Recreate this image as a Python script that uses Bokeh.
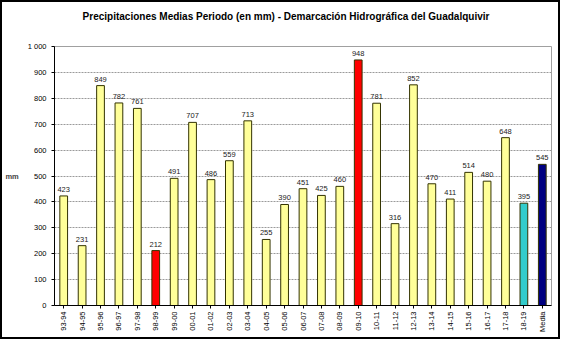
from bokeh.plotting import figure
from bokeh.models import ColumnDataSource, FactorRange, FixedTicker, LabelSet, Div
from bokeh.layouts import column
from bokeh.core.properties import value
from bokeh.embed import file_html
from bokeh.resources import INLINE

title_text = "Precipitaciones Medias Periodo (en mm) - Demarcación Hidrográfica del Guadalquivir"
periods = ["93-94", "94-95", "95-96", "96-97", "97-98", "98-99", "99-00", "00-01",
           "01-02", "02-03", "03-04", "04-05", "05-06", "06-07", "07-08", "08-09",
           "09-10", "10-11", "11-12", "12-13", "13-14", "14-15", "15-16", "16-17",
           "17-18", "18-19", "Media"]
values = [423, 231, 849, 782, 761, 212, 491, 707, 486, 559, 713, 255, 390, 451,
          425, 460, 948, 781, 316, 852, 470, 411, 514, 480, 648, 395, 545]
y_ticks = [0, 100, 200, 300, 400, 500, 600, 700, 800, 900, 1000]

YELLOW = "#FFFF99"
colors = [YELLOW] * len(periods)
colors[periods.index("98-99")] = "#FF0000"
colors[periods.index("09-10")] = "#FF0000"
colors[periods.index("18-19")] = "#33CCCC"
colors[periods.index("Media")] = "#000080"

src = ColumnDataSource(dict(x=periods, v=values, c=colors, t=[str(v) for v in values]))

title_div = Div(text=title_text, width=556, height=30, margin=0,
                styles={"font-family": "Liberation Sans", "font-size": "10px",
                        "font-weight": "bold", "color": "#000000", "text-align": "center",
                        "padding-top": "8px", "padding-left": "12px", "box-sizing": "border-box",
                        "background": "white"})

p = figure(x_range=FactorRange(*periods, range_padding=0), y_range=(0, 1000),
           width=556, height=305, output_backend="svg", toolbar_location=None,
           min_border_left=44, min_border_right=7, min_border_top=14, min_border_bottom=32)

p.vbar(x="x", top="v", width=0.42, fill_color="c", line_color="#333300", line_width=1, source=src)

labels = LabelSet(x="x", y="v", text="t", source=src, y_offset=4, text_align="center",
                  text_font=value("Liberation Sans"), text_font_size="7.5px", text_color="#222222")
p.add_layout(labels)

p.yaxis.ticker = FixedTicker(ticks=y_ticks)
p.yaxis.major_label_overrides = {1000: "1 000"}
p.yaxis.axis_label = "mm"
p.yaxis.axis_label_orientation = "horizontal"
p.yaxis.axis_label_text_font = "Liberation Sans"
p.yaxis.axis_label_text_font_style = "bold"
p.yaxis.axis_label_text_font_size = "7.5px"
p.yaxis.axis_label_standoff = 6
p.yaxis.minor_tick_line_color = None
p.yaxis.major_tick_in = 0
p.yaxis.major_tick_out = 3

for ax in (p.xaxis, p.yaxis):
    ax.major_label_text_font = "Liberation Sans"
    ax.major_label_text_font_size = "7.5px"
    ax.major_label_text_color = "#000000"
    ax.axis_line_color = "#000000"
    ax.major_tick_line_color = "#000000"

p.xaxis.major_label_orientation = 1.5708
p.xaxis.major_tick_in = 0
p.xaxis.major_tick_out = 3
p.xaxis.major_label_standoff = 3

p.xgrid.grid_line_color = None
p.ygrid.grid_line_color = "#9a9a9a"
p.ygrid.grid_line_dash = "2 1"
p.outline_line_color = "#a0a0a0"
p.background_fill_color = "white"
p.border_fill_color = "white"

layout = column(title_div, p, spacing=0, styles={"border": "2px solid black", "background": "white"})

open("out.html", "w").write(file_html(layout, INLINE))
